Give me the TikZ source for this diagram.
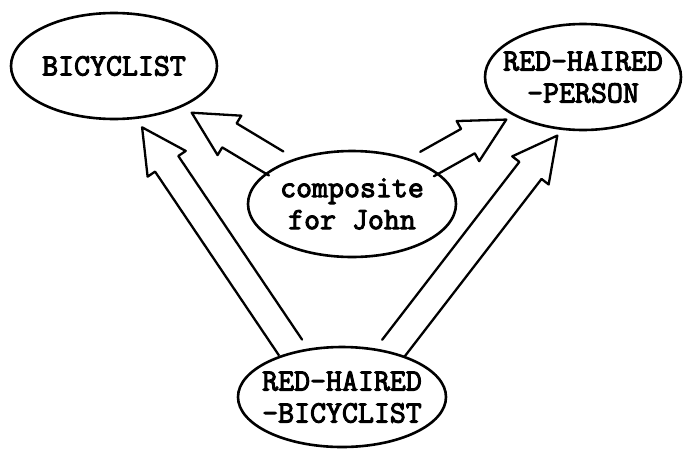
\documentclass[tikz,border=0pt]{standalone}
\usepackage{fontspec}
\newfontfamily\typewriter{Latin Modern Mono}[FakeBold=3.2]
\usetikzlibrary{shapes.geometric,calc}

% dimensions of the hollow block arrows
\newcommand{\shafthalf}{14pt}
\newcommand{\headhalf}{23pt}
\newcommand{\headlen}{44pt}

% hollow (outlined) arrow from the border of one node towards another
% #1 source anchor, #2 target anchor, #3 gap at the tail, #4 gap at the tip
\newcommand{\hollowarrow}[4]{%
  \coordinate (ha-s) at ($(#1)!#3!(#2)$);
  \coordinate (ha-t) at ($(#2)!#4!(#1)$);
  \coordinate (ha-n) at ($(ha-t)!\headlen!(ha-s)$);
  \draw[blockarrow]
    ($(ha-s)!\shafthalf!90:(ha-t)$) -- ($(ha-n)!\shafthalf!90:(ha-t)$)
    -- ($(ha-n)!\headhalf!90:(ha-t)$) -- (ha-t)
    -- ($(ha-n)!\headhalf!-90:(ha-t)$) -- ($(ha-n)!\shafthalf!-90:(ha-t)$)
    -- ($(ha-s)!\shafthalf!-90:(ha-t)$);
}

\tikzset{
  concept/.style={ellipse, draw, line width=2.6pt, inner xsep=-40pt, inner ysep=-20pt,
    align=center, font=\typewriter\fontsize{31}{32}\selectfont},
  blockarrow/.style={draw, line width=2.3pt, line join=round, line cap=round}
}

\begin{document}
\begin{tikzpicture}[x=1pt, y=-1pt]
  \useasboundingbox (0,0) rectangle (684,450);

  \node[concept, minimum width=206pt, minimum height=106pt] (bic) at (114,66) {BICYCLIST};
  \node[concept, minimum width=196pt, minimum height=106pt] (rhp) at (583,77) {RED-HAIRED\\-PERSON};
  \node[concept, minimum width=208pt, minimum height=106pt] (comp) at (352,204) {composite\\for John};
  \node[concept, minimum width=208pt, minimum height=100pt] (bot) at (342,397) {RED-HAIRED\\-BICYCLIST};

  \hollowarrow{bot.137}{bic.293}{5pt}{10pt}
  \hollowarrow{bot.43}{rhp.248}{4pt}{7pt}
  \hollowarrow{comp.152}{bic.329}{3pt}{11pt}
  \hollowarrow{comp.28}{rhp.209}{2pt}{8pt}
\end{tikzpicture}
\end{document}
